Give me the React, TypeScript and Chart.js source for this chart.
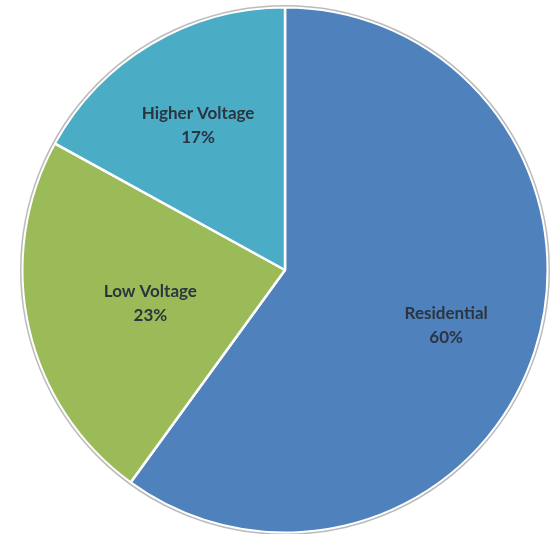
import React, { useEffect, useRef } from "react";
import { Chart, registerables } from "chart.js";

Chart.register(...registerables);

const categories = ["Residential", "Low Voltage", "Higher Voltage"];
const shares = [60, 23, 17];
const colors = ["#4F81BD", "#9BBB59", "#4BACC6"];
const percentLabels = ["60%", "23%", "17%"];
const labelRadiusFraction = [0.645, 0.525, 0.65];

const outlinePlugin = {
  id: "outline",
  afterDatasetsDraw(chart: any) {
    const meta = chart.getDatasetMeta(0);
    const arc = meta.data[0];
    if (!arc) return;
    const { x, y, outerRadius } = arc.getProps(["x", "y", "outerRadius"], true);
    const ctx = chart.ctx;
    ctx.save();
    ctx.beginPath();
    ctx.arc(x, y, outerRadius + 1.5, 0, Math.PI * 2);
    ctx.strokeStyle = "rgba(170,170,170,0.8)";
    ctx.lineWidth = 1.5;
    ctx.stroke();
    ctx.restore();
  },
};

const labelPlugin = {
  id: "sliceLabels",
  afterDatasetsDraw(chart: any) {
    const meta = chart.getDatasetMeta(0);
    const ctx = chart.ctx;
    ctx.save();
    ctx.font = "bold 17px Lato";
    ctx.fillStyle = "#2a3540";
    ctx.textAlign = "center";
    ctx.textBaseline = "middle";
    meta.data.forEach((arc: any, i: number) => {
      const { x, y, startAngle, endAngle, outerRadius } = arc.getProps(
        ["x", "y", "startAngle", "endAngle", "outerRadius"],
        true
      );
      const mid = (startAngle + endAngle) / 2;
      const r = outerRadius * labelRadiusFraction[i];
      const cx = x + Math.cos(mid) * r;
      const cy = y + Math.sin(mid) * r + 3;
      ctx.fillText(categories[i], cx, cy - 12);
      ctx.fillText(percentLabels[i], cx, cy + 12);
    });
    ctx.restore();
  },
};

export default function App() {
  const ref = useRef<HTMLCanvasElement>(null);
  useEffect(() => {
    if (!ref.current) return;
    const chart = new Chart(ref.current, {
      type: "pie",
      data: {
        labels: categories,
        datasets: [
          {
            data: shares,
            backgroundColor: colors,
            borderColor: "#ffffff",
            borderWidth: 2.5,
          },
        ],
      },
      options: {
        animation: false,
        responsive: false,
        maintainAspectRatio: false,
        layout: { padding: { left: 21, right: 7, top: 6, bottom: 0 } },
        plugins: {
          legend: { display: false },
          tooltip: { enabled: false },
        },
      },
      plugins: [outlinePlugin, labelPlugin],
    });
    return () => chart.destroy();
  }, []);
  return (
    <div style={{ position: "fixed", left: 0, top: 0, width: 556, height: 534, background: "#fff" }}>
      <canvas ref={ref} width={556} height={534} style={{ width: 556, height: 534 }} />
    </div>
  );
}
